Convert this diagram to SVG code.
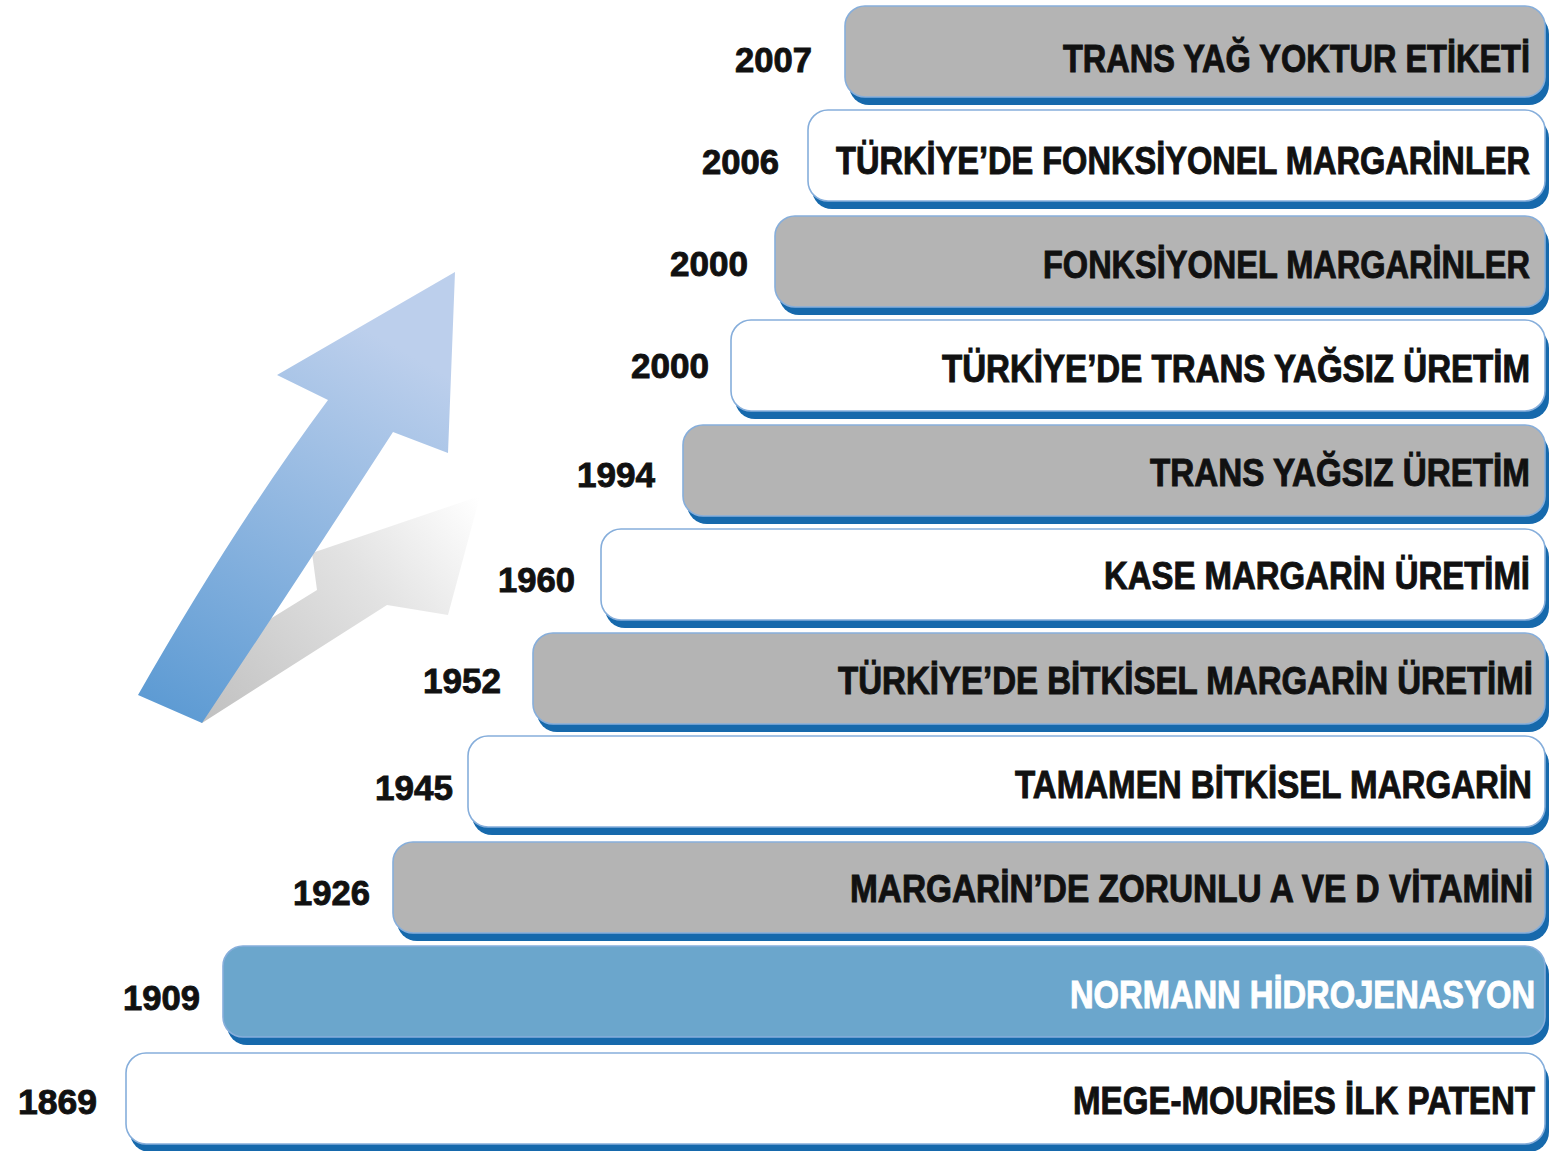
<svg xmlns="http://www.w3.org/2000/svg" width="1551" height="1151" viewBox="0 0 1551 1151">
<defs>
<linearGradient id="blueArrow" x1="0" y1="1" x2="0.4" y2="0">
<stop offset="0" stop-color="#5898d2"/>
<stop offset="1" stop-color="#bccfec"/>
</linearGradient>
<linearGradient id="grayArrow" x1="200" y1="720" x2="480" y2="500" gradientUnits="userSpaceOnUse">
<stop offset="0" stop-color="#c0c0c0"/>
<stop offset="0.6" stop-color="#e2e2e2"/>
<stop offset="1" stop-color="#ffffff"/>
</linearGradient>
<style>
.sh{fill:#1669ac}
.bar{stroke:#86aedb;stroke-width:1.6}
.gray{fill:#b4b4b4}
.white{fill:#ffffff}
.blue{fill:#6ba6cc}
.lbl{font-family:"Liberation Sans",Arial,sans-serif;font-weight:bold;font-size:31.7px;fill:#111;stroke:#111;stroke-width:0.8;text-anchor:end}
.yr{font-family:"Liberation Sans",Arial,sans-serif;font-weight:bold;font-size:35px;fill:#111;stroke:#111;stroke-width:0.9;text-anchor:end}
.wl{fill:#ffffff;stroke:#ffffff}
</style>
</defs>
<rect width="1551" height="1151" fill="#ffffff"/>

<g id="arrow">
<path d="M202,723 L387,605 L448,615 L480,496 L312,553 L317,590 L220,650 L190,712 Z" fill="url(#grayArrow)"/>
<path d="M138,695 Q235,525 328,400 L277,375 L455,272 L448,453 L393,432 Q292,588 202,723 Z" fill="url(#blueArrow)"/>
</g>

<g id="connectors"></g>

<g id="n2007">
<rect class="sh" x="849" y="14" width="700" height="91" rx="20"/>
<rect class="bar gray" x="845" y="6" width="700" height="91" rx="20"/>
<text class="yr" x="812" y="72" textLength="77" lengthAdjust="spacingAndGlyphs">2007</text>
<text class="lbl" transform="translate(1530,72) scale(1,1.2)" x="0" y="0" textLength="467" lengthAdjust="spacingAndGlyphs">TRANS YAĞ YOKTUR ETİKETİ</text>
</g>
<g id="n2006">
<rect class="sh" x="812" y="118" width="737" height="91" rx="20"/>
<rect class="bar white" x="808" y="110" width="737" height="91" rx="20"/>
<text class="yr" x="779" y="174" textLength="77" lengthAdjust="spacingAndGlyphs">2006</text>
<text class="lbl" transform="translate(1530,174) scale(1,1.2)" x="0" y="0" textLength="694" lengthAdjust="spacingAndGlyphs">TÜRKİYE’DE FONKSİYONEL MARGARİNLER</text>
</g>
<g id="n2000a">
<rect class="sh" x="779" y="224" width="770" height="91" rx="20"/>
<rect class="bar gray" x="775" y="216" width="770" height="91" rx="20"/>
<text class="yr" x="748" y="276" textLength="78" lengthAdjust="spacingAndGlyphs">2000</text>
<text class="lbl" transform="translate(1530,278) scale(1,1.2)" x="0" y="0" textLength="487" lengthAdjust="spacingAndGlyphs">FONKSİYONEL MARGARİNLER</text>
</g>
<g id="n2000b">
<rect class="sh" x="735" y="328" width="814" height="91" rx="20"/>
<rect class="bar white" x="731" y="320" width="814" height="91" rx="20"/>
<text class="yr" x="709" y="378" textLength="78" lengthAdjust="spacingAndGlyphs">2000</text>
<text class="lbl" transform="translate(1530,382) scale(1,1.2)" x="0" y="0" textLength="588" lengthAdjust="spacingAndGlyphs">TÜRKİYE’DE TRANS YAĞSIZ ÜRETİM</text>
</g>
<g id="n1994">
<rect class="sh" x="687" y="433" width="862" height="91" rx="20"/>
<rect class="bar gray" x="683" y="425" width="862" height="91" rx="20"/>
<text class="yr" x="655" y="487" textLength="78" lengthAdjust="spacingAndGlyphs">1994</text>
<text class="lbl" transform="translate(1530,486) scale(1,1.2)" x="0" y="0" textLength="380" lengthAdjust="spacingAndGlyphs">TRANS YAĞSIZ ÜRETİM</text>
</g>
<g id="n1960">
<rect class="sh" x="605" y="537" width="944" height="91" rx="20"/>
<rect class="bar white" x="601" y="529" width="944" height="91" rx="20"/>
<text class="yr" x="575" y="592" textLength="77" lengthAdjust="spacingAndGlyphs">1960</text>
<text class="lbl" transform="translate(1530,589) scale(1,1.2)" x="0" y="0" textLength="426" lengthAdjust="spacingAndGlyphs">KASE MARGARİN ÜRETİMİ</text>
</g>
<g id="n1952">
<rect class="sh" x="537" y="641" width="1012" height="91" rx="20"/>
<rect class="bar gray" x="533" y="633" width="1012" height="91" rx="20"/>
<text class="yr" x="501" y="693" textLength="78" lengthAdjust="spacingAndGlyphs">1952</text>
<text class="lbl" transform="translate(1533,694) scale(1,1.2)" x="0" y="0" textLength="695" lengthAdjust="spacingAndGlyphs">TÜRKİYE’DE BİTKİSEL MARGARİN ÜRETİMİ</text>
</g>
<g id="n1945">
<rect class="sh" x="472" y="744" width="1077" height="91" rx="20"/>
<rect class="bar white" x="468" y="736" width="1077" height="91" rx="20"/>
<text class="yr" x="453" y="800" textLength="78" lengthAdjust="spacingAndGlyphs">1945</text>
<text class="lbl" transform="translate(1532,798) scale(1,1.2)" x="0" y="0" textLength="517" lengthAdjust="spacingAndGlyphs">TAMAMEN BİTKİSEL MARGARİN</text>
</g>
<g id="n1926">
<rect class="sh" x="397" y="850" width="1152" height="91" rx="20"/>
<rect class="bar gray" x="393" y="842" width="1152" height="91" rx="20"/>
<text class="yr" x="370" y="905" textLength="77" lengthAdjust="spacingAndGlyphs">1926</text>
<text class="lbl" transform="translate(1533,902) scale(1,1.2)" x="0" y="0" textLength="683" lengthAdjust="spacingAndGlyphs">MARGARİN’DE ZORUNLU A VE D VİTAMİNİ</text>
</g>
<g id="n1909">
<rect class="sh" x="227" y="954" width="1322" height="91" rx="20"/>
<rect class="bar blue" x="223" y="946" width="1322" height="91" rx="20"/>
<text class="yr" x="200" y="1010" textLength="77" lengthAdjust="spacingAndGlyphs">1909</text>
<text class="lbl wl" transform="translate(1535,1008) scale(1,1.2)" x="0" y="0" textLength="465" lengthAdjust="spacingAndGlyphs">NORMANN HİDROJENASYON</text>
</g>
<g id="n1869">
<rect class="sh" x="130" y="1061" width="1419" height="91" rx="20"/>
<rect class="bar white" x="126" y="1053" width="1419" height="91" rx="20"/>
<text class="yr" x="97" y="1114" textLength="79" lengthAdjust="spacingAndGlyphs">1869</text>
<text class="lbl" transform="translate(1535,1114) scale(1,1.2)" x="0" y="0" textLength="462" lengthAdjust="spacingAndGlyphs">MEGE-MOURİES İLK PATENT</text>
</g>
</svg>
